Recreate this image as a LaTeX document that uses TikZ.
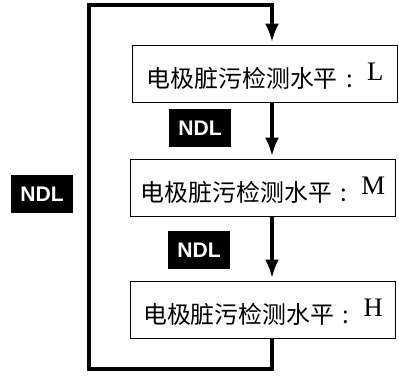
\documentclass[tikz,border=0pt]{standalone}
\usepackage{fontspec}
\setmainfont{Liberation Serif}
\newfontfamily\zh{Noto Sans CJK SC}
\newfontfamily\ndlfont{Liberation Sans}
\usetikzlibrary{arrows.meta}
\tikzset{
  lvbox/.style={draw, line width=1.2pt, minimum width=6.625cm, minimum height=1.425cm,
    inner sep=0pt, text height=19pt, text depth=0pt, font=\fontsize{17pt}{20pt}\selectfont},
  ndl/.style={fill=black, text=white, minimum width=1.55cm, minimum height=0.95cm,
    inner sep=0pt, font=\ndlfont\bfseries\fontsize{15pt}{18pt}\selectfont},
  flow/.style={line width=2.2pt, -{Latex[length=13pt,width=10pt]}, shorten >=2pt}
}
\begin{document}
\begin{tikzpicture}[x=0.025cm, y=-0.025cm]
  \useasboundingbox (0,0) rectangle (399,376);
  \foreach \lv/\x/\y in {L/265/74, M/263/188, H/263/310}
  \node[lvbox] (\lv) at (\x,\y) {\zh 电极脏污检测水平\hspace{6pt}:\hspace{10pt}\rmfamily\fontsize{19pt}{20pt}\selectfont\raisebox{5pt}{\lv}};

  \node[ndl] (ndl1) at (200,128) {NDL};
  \node[ndl] (ndl2) at (199,250) {NDL};
  \node[ndl] (ndl3) at (42,194) {NDL};

  \coordinate (ctl) at (89,5);
  \coordinate (cbr) at (272,369);
  \draw[flow] (L.south -| cbr) -- (M.north -| cbr);
  \draw[flow] (M.south -| cbr) -- (H.north -| cbr);
  \draw[flow] (H.south -| cbr) -- (cbr) -| (ctl) -| (L.north -| cbr);
\end{tikzpicture}
\end{document}
